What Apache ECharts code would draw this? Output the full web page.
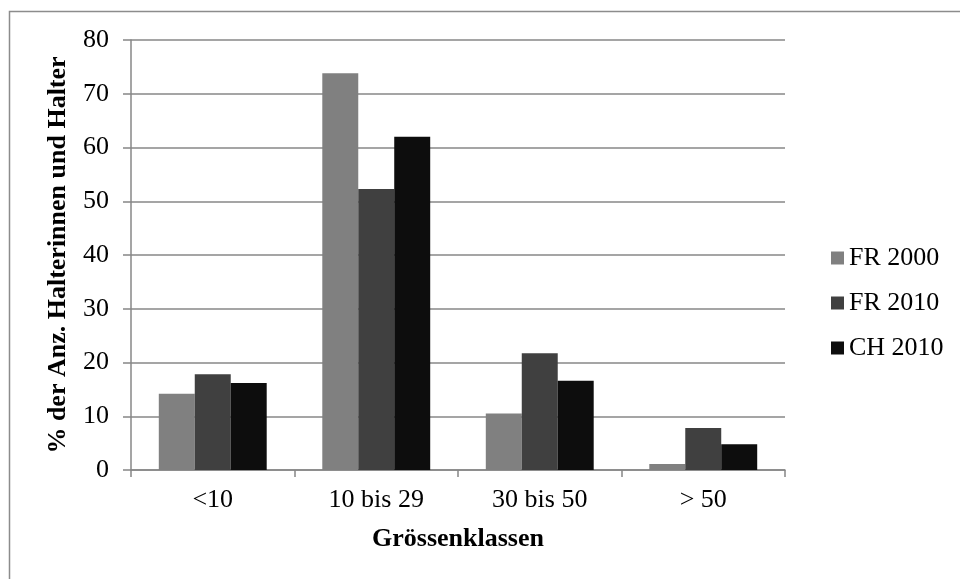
<!DOCTYPE html>
<html>
<head>
<meta charset="utf-8">
<script src="https://cdn.jsdelivr.net/npm/echarts@6/dist/echarts.min.js"></script>
<style>html,body{margin:0;padding:0;background:#fff;}#c{width:960px;height:579px;}</style>
</head>
<body>
<div id="c"></div>
<script>
var categories = ['<10', '10 bis 29', '30 bis 50', '> 50'];
var seriesNames = ['FR 2000', 'FR 2010', 'CH 2010'];
var fr2000 = [14.2, 73.8, 10.5, 1.1];
var fr2010 = [17.8, 52.3, 21.7, 7.8];
var ch2010 = [16.2, 62.0, 16.6, 4.8];
var yTicks = { min: 0, max: 80, interval: 10 };

var FONT = "'Liberation Serif', 'Times New Roman', serif";
var colors = ['#808080', '#404040', '#0d0d0d'];
var chart = echarts.init(document.getElementById('c'));
var dataSets = [fr2000, fr2010, ch2010];
chart.setOption({
  animation: false,
  backgroundColor: '#fff',
  graphic: [{
    type: 'rect', silent: true,
    shape: { x: 9.5, y: 11.5, width: 1000, height: 700 },
    style: { fill: 'none', stroke: '#8c8c8c', lineWidth: 1.5 }
  }],
  grid: { left: 131, right: 175, top: 40, bottom: 109, containLabel: false },
  legend: {
    orient: 'vertical', left: 826, top: 240,
    itemWidth: 13, itemHeight: 13, itemGap: 19,
    icon: 'rect',
    textStyle: { fontFamily: FONT, fontSize: 26, color: '#000', lineHeight: 26 },
    data: seriesNames
  },
  xAxis: {
    type: 'category', data: categories,
    name: 'Grössenklassen', nameLocation: 'middle', nameGap: 56,
    nameTextStyle: { fontFamily: FONT, fontSize: 26, fontWeight: 'bold', color: '#000' },
    axisLine: { lineStyle: { color: '#878787', width: 1.5 } },
    axisTick: { show: true, length: 7, alignWithLabel: false, lineStyle: { color: '#878787', width: 1.5 } },
    axisLabel: { fontFamily: FONT, fontSize: 26, color: '#000', margin: 17 },
    splitLine: { show: false }
  },
  yAxis: {
    type: 'value', min: yTicks.min, max: yTicks.max, interval: yTicks.interval,
    name: '% der Anz. Halterinnen und Halter', nameLocation: 'middle', nameGap: 60,
    nameTextStyle: { fontFamily: FONT, fontSize: 26, fontWeight: 'bold', color: '#000' },
    axisLine: { show: true, lineStyle: { color: '#878787', width: 1.5 } },
    axisTick: { show: true, length: 8, lineStyle: { color: '#878787', width: 1.5 } },
    axisLabel: { fontFamily: FONT, fontSize: 26, color: '#000', margin: 22 },
    splitLine: { show: true, lineStyle: { color: '#878787', width: 1.5 } }
  },
  series: seriesNames.map(function (n, i) {
    return {
      name: n, type: 'bar', data: dataSets[i],
      barGap: '0%', barCategoryGap: '34%',
      itemStyle: { color: colors[i] }
    };
  })
});
</script>
</body>
</html>
